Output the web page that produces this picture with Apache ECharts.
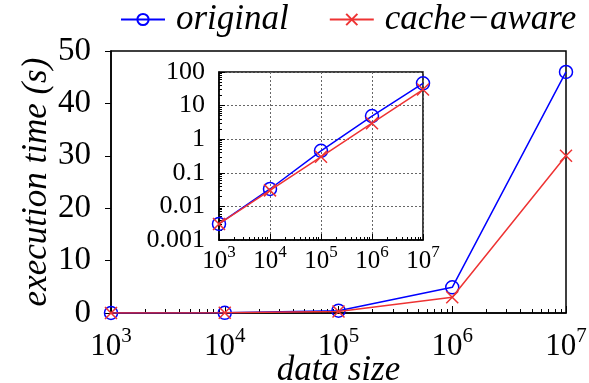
<!DOCTYPE html>
<html>
<head>
<meta charset="utf-8">
<script src="https://cdn.jsdelivr.net/npm/echarts@6/dist/echarts.min.js"></script>
<style>
  html, body { margin: 0; padding: 0; background: #fff; }
  #chart { width: 589px; height: 383px; }
</style>
</head>
<body>
<div id="chart"></div>
<script>
// data sizes (x) and execution times in seconds (y)
const sizes = [1e3, 1e4, 1e5, 1e6, 1e7];
const original = [0.003, 0.033, 0.45, 4.9, 46];
const cacheAware = [0.003, 0.03, 0.3, 3.0, 30];

// axis ticks
const mainYTicks = [0, 10, 20, 30, 40, 50];
const insetYLabels = ["0.001", "0.01", "0.1", "1", "10", "100"];
const minorFactors = [2, 3, 4, 5, 6, 7, 8, 9];

const FONT = "'Liberation Serif', 'Times New Roman', serif";
const BLUE = "#0000ff";
const RED = "#ee3333";
const CROSS = "path://M0,0L10,10M10,0L0,10";

// minor tick positions in log10 space (decoration only)
function minorLog(fromExp, toExp) {
  const out = [];
  for (let e = fromExp; e < toExp; e++) {
    minorFactors.forEach((k) => out.push(e + Math.log10(k)));
  }
  return out;
}

function pow10Label(big, small) {
  return {
    formatter: (v) => "{b|10}{s|" + Math.round(Math.log10(v)) + "}",
    rich: {
      b: { fontFamily: FONT, fontSize: big, lineHeight: big + 10, color: "#000" },
      s: { fontFamily: FONT, fontSize: small, lineHeight: small, verticalAlign: "top", color: "#000" },
    },
  };
}

const pairs = (ys) => sizes.map((x, i) => [x, ys[i]]);

const chart = echarts.init(document.getElementById("chart"), null, { renderer: "canvas" });

const lineSeries = (name, ys, xi, yi, isOrig) => ({
  name: name,
  type: "line",
  xAxisIndex: xi,
  yAxisIndex: yi,
  data: pairs(ys),
  symbol: isOrig ? "circle" : CROSS,
  symbolSize: isOrig ? 13 : 12,
  lineStyle: { color: isOrig ? BLUE : RED, width: 1.5 },
  itemStyle: isOrig
    ? { color: "rgba(0,0,0,0)", borderColor: BLUE, borderWidth: 1.5 }
    : { color: RED, borderColor: RED, borderWidth: 1.5 },
  emphasis: { disabled: true },
  animation: false,
  z: isOrig ? 3 : 4,
});

const hiddenLine = { show: false, onZero: false };

chart.setOption({
  backgroundColor: "#fff",
  animation: false,
  legend: {
    top: 2,
    left: 120,
    width: 469,
    padding: 0,
    itemWidth: 44,
    itemHeight: 14,
    itemGap: 40,
    data: ["original", "cache\u2212aware"],
    textStyle: { fontFamily: FONT, fontStyle: "italic", fontSize: 35, color: "#000", padding: [0, 0, 0, 6] },
  },
  grid: [
    { left: 111, right: 23, top: 51, bottom: 70, show: true, borderColor: "#000", borderWidth: 1.5,
      containLabel: false, outerBoundsMode: "none" },
    { left: 219, right: 166, top: 72, bottom: 143, show: true, borderColor: "#000", borderWidth: 1.5,
      backgroundColor: "#fff", containLabel: false, outerBoundsMode: "none" },
  ],
  xAxis: [
    {
      type: "log", gridIndex: 0, logBase: 10, min: sizes[0], max: sizes[sizes.length - 1],
      axisLine: { onZero: false, lineStyle: { color: "#000", width: 1.5 } },
      axisTick: { inside: true, length: 7, lineStyle: { color: "#000" } },
      axisLabel: Object.assign({ margin: 13 }, pow10Label(31, 21)),
      splitLine: { show: false },
      name: "data size", nameLocation: "middle", nameGap: 40, nameMoveOverlap: false,
      nameTextStyle: { fontFamily: FONT, fontStyle: "italic", fontSize: 35, color: "#000" },
    },
    {
      type: "value", gridIndex: 0, min: 3, max: 7, position: "bottom",
      axisLine: hiddenLine, axisLabel: { show: false }, splitLine: { show: false },
      axisTick: { inside: true, length: 4, lineStyle: { color: "#000" }, customValues: minorLog(3, 7) },
    },
    {
      type: "log", gridIndex: 1, logBase: 10, min: sizes[0], max: sizes[sizes.length - 1],
      axisLine: { onZero: false, lineStyle: { color: "#000", width: 1.5 } },
      axisTick: { inside: true, length: 6, lineStyle: { color: "#000" } },
      axisLabel: Object.assign({ margin: 4 }, pow10Label(25, 17)),
      splitLine: { show: true, lineStyle: { color: "#666", type: [2, 2], width: 1 } },
    },
    {
      type: "value", gridIndex: 1, min: 3, max: 7, position: "bottom",
      axisLine: hiddenLine, axisLabel: { show: false }, splitLine: { show: false },
      axisTick: { inside: true, length: 3, lineStyle: { color: "#000" }, customValues: minorLog(3, 7) },
    },
  ],
  yAxis: [
    {
      type: "value", gridIndex: 0, min: mainYTicks[0], max: mainYTicks[mainYTicks.length - 1],
      interval: mainYTicks[1] - mainYTicks[0],
      axisLine: { show: true, onZero: false, lineStyle: { color: "#000", width: 1.5 } },
      axisTick: { show: true, length: 6, lineStyle: { color: "#000" } },
      axisLabel: { fontFamily: FONT, fontSize: 33, color: "#000", margin: 20 },
      splitLine: { show: false },
      name: "execution time (s)", nameLocation: "middle", nameRotate: 90, nameGap: 57, nameMoveOverlap: false,
      nameTextStyle: { fontFamily: FONT, fontStyle: "italic", fontSize: 35, color: "#000" },
    },
    {
      type: "log", gridIndex: 1, logBase: 10, min: 0.001, max: 100,
      axisLine: { show: true, onZero: false, lineStyle: { color: "#000", width: 1.5 } },
      axisTick: { show: true, inside: true, length: 6, lineStyle: { color: "#000" } },
      axisLabel: {
        fontFamily: FONT, fontSize: 26, color: "#000", margin: 14,
        formatter: (v) => insetYLabels[Math.round(Math.log10(v)) + 3],
      },
      splitLine: { show: true, lineStyle: { color: "#666", type: [2, 2], width: 1 } },
    },
    {
      type: "value", gridIndex: 1, min: -3, max: 2, position: "left",
      axisLine: hiddenLine, axisLabel: { show: false }, splitLine: { show: false },
      axisTick: { inside: true, length: 3, lineStyle: { color: "#000" }, customValues: minorLog(-3, 2) },
    },
  ],
  series: [
    lineSeries("original", original, 0, 0, true),
    lineSeries("cache\u2212aware", cacheAware, 0, 0, false),
    lineSeries("original", original, 2, 1, true),
    lineSeries("cache\u2212aware", cacheAware, 2, 1, false),
  ],
});
</script>
</body>
</html>
